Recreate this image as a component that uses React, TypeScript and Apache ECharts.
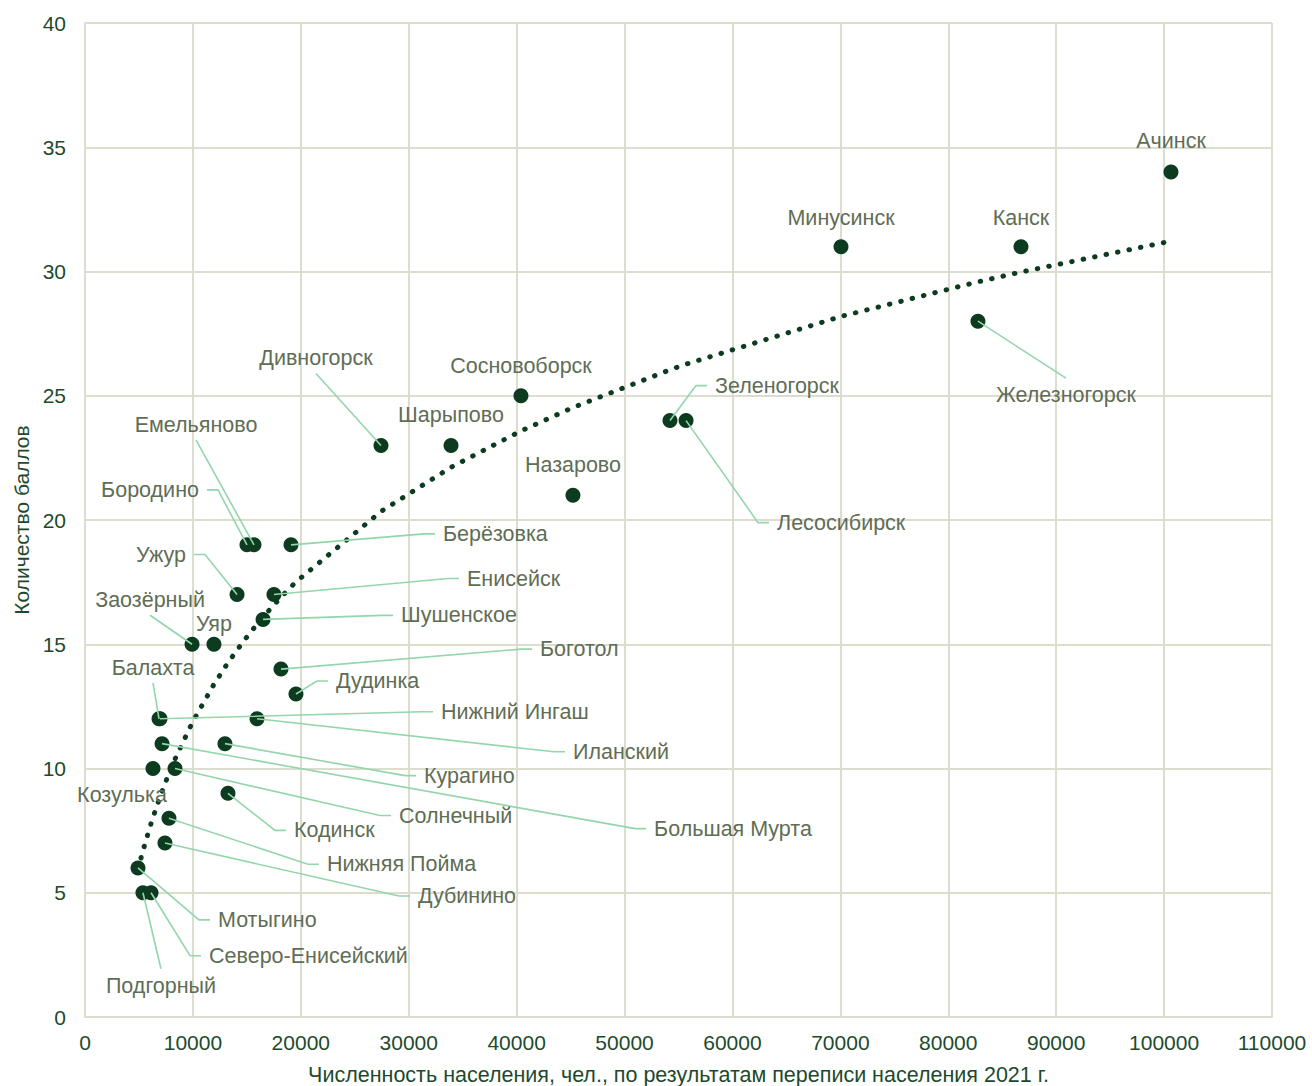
import React, { useEffect, useRef } from "react";
import * as echarts from "echarts";

// ---- data ----
const names = [
  "Ачинск", "Канск", "Минусинск", "Железногорск", "Сосновоборск", "Зеленогорск",
  "Лесосибирск", "Дивногорск", "Шарыпово", "Назарово", "Емельяново", "Бородино",
  "Берёзовка", "Ужур", "Енисейск", "Шушенское", "Заозёрный", "Уяр", "Боготол",
  "Дудинка", "Балахта", "Нижний Ингаш", "Иланский", "Курагино", "Большая Мурта",
  "Солнечный", "Козулька", "Кодинск", "Нижняя Пойма", "Дубинино", "Мотыгино",
  "Северо-Енисейский", "Подгорный",
];
const population = [
  100640, 86740, 70060, 82750, 40400, 54210,
  55700, 27430, 33920, 45220, 15660, 15010,
  19090, 14090, 17510, 16500, 9920, 11950, 18160,
  19550, 6860, 6950, 15940, 12970, 7140,
  8340, 6300, 13250, 7780, 7410, 4910,
  6120, 5370,
];
const scores = [
  34, 31, 31, 28, 25, 24,
  24, 23, 23, 21, 19, 19,
  19, 17, 17, 16, 15, 15, 14,
  13, 12, 12, 12, 11, 11,
  10, 10, 9, 8, 7, 6,
  5, 5,
];

// axis settings
const xMin = 0, xMax = 110000, xStep = 10000;
const yMin = 0, yMax = 40, yStep = 5;
const xTitle = "Численность населения, чел., по результатам переписи населения 2021 г.";
const yTitle = "Количество баллов";

// ---- label placement (pixel offsets from the point; styling only) ----
// mode: c = centred, no leader; l = left-aligned with leader; r = right-aligned with leader;
// b = centred, leader to label bottom; t = centred, leader to label top
const labelMode = [
  "c", "c", "c", "t", "c", "l",
  "l", "b", "c", "c", "b", "r",
  "l", "r", "l", "l", "b", "c", "l",
  "l", "b", "l", "l", "l", "l",
  "l", "c", "l", "l", "l", "l",
  "l", "t",
];
const labelDx = [
  0, 0, 0, 88, 0, 45,
  91, -65, 0, 0, -58, -48,
  152, -51, 193, 138, -42, 0, 259,
  40, -6, 281, 316, 199, 492,
  224, -31, 66, 158, 253, 80,
  58, 18,
];
const labelDy = [
  -31, -29, -29, 74, -30, -35,
  102, -87, -30, -30, -120, -55,
  -11, -40, -16, -4, -44, -20, -20,
  -13, -51, -7, 33, 32, 85,
  47, 26, 37, 46, 53, 52,
  63, 93,
];

const FONT = '"Liberation Sans", Arial, sans-serif';
const DOT = "#0c3b1f";
const LEADER = "#93d6ab";
const LABEL = "#5f6d55";
const AXIS_TEXT = "#1d4a2d";
const GRID = "#dcdccf";
const GAP = 8;
const STUB = 11;

// logarithmic least-squares trend, fitted on the data above
function logFit(xs: number[], ys: number[]) {
  const lx = xs.map(Math.log);
  const n = xs.length;
  const mx = lx.reduce((a, b) => a + b, 0) / n;
  const my = ys.reduce((a, b) => a + b, 0) / n;
  let sxy = 0, sxx = 0;
  for (let i = 0; i < n; i++) {
    sxy += (lx[i] - mx) * (ys[i] - my);
    sxx += (lx[i] - mx) * (lx[i] - mx);
  }
  const a = sxy / sxx;
  const b = my - a * mx;
  return (x: number) => a * Math.log(x) + b;
}

export default function App() {
  const ref = useRef<HTMLDivElement>(null);

  useEffect(() => {
    if (!ref.current) return;
    const chart = echarts.init(ref.current, null, { renderer: "svg" });

    const fit = logFit(population, scores);
    const trendXs = Array.from(new Set(population)).sort((a, b) => a - b);
    const trendData = trendXs.map((x) => [x, fit(x)]);

    const pointData = names.map((_, i) => [population[i], scores[i]]);
    const labelData = names.map((_, i) => [population[i], scores[i], i]);

    const option: any = {
      animation: false,
      backgroundColor: "#ffffff",
      grid: {
        left: 85, top: 23, right: 40, bottom: 69,
        containLabel: false, outerBoundsMode: "none",
      },
      xAxis: {
        type: "value",
        min: xMin,
        max: xMax,
        interval: xStep,
        name: xTitle,
        nameLocation: "middle",
        nameGap: 47,
        nameTextStyle: { color: AXIS_TEXT, fontSize: 21.5, fontFamily: FONT },
        axisLine: { show: true, lineStyle: { color: GRID, width: 2 } },
        axisTick: { show: false },
        axisLabel: {
          color: AXIS_TEXT, fontSize: 21, fontFamily: FONT, margin: 15,
          formatter: (v: number) => String(v),
        },
        splitLine: { show: true, lineStyle: { color: GRID, width: 2 } },
      },
      yAxis: {
        type: "value",
        min: yMin,
        max: yMax,
        interval: yStep,
        name: yTitle,
        nameLocation: "middle",
        nameGap: 52,
        nameRotate: 90,
        nameTextStyle: { color: AXIS_TEXT, fontSize: 21, fontFamily: FONT },
        axisLine: { show: true, lineStyle: { color: GRID, width: 2 } },
        axisTick: { show: false },
        axisLabel: {
          color: AXIS_TEXT, fontSize: 21, fontFamily: FONT, margin: 19,
          formatter: (v: number) => String(v),
        },
        splitLine: { show: true, lineStyle: { color: GRID, width: 2 } },
      },
      series: [
        {
          type: "line",
          name: "trend",
          data: trendData,
          showSymbol: false,
          symbol: "none",
          smooth: false,
          z: 2,
          lineStyle: { color: DOT, width: 5, type: [0.5, 11.2], cap: "round" },
        },
        {
          type: "scatter",
          name: "points",
          data: pointData,
          symbolSize: 15,
          z: 3,
          itemStyle: { color: DOT, opacity: 1 },
        },
        {
          type: "custom",
          name: "labels",
          coordinateSystem: "cartesian2d",
          data: labelData,
          encode: { x: 0, y: 1 },
          clip: false,
          z: 4,
          renderItem: (params: any, api: any) => {
            const i = api.value(2);
            const p = api.coord([api.value(0), api.value(1)]);
            const mode = labelMode[i];
            const lx = p[0] + labelDx[i];
            const ly = p[1] + labelDy[i];
            let align = "center";
            let pts: number[][] | null = null;
            if (mode === "l") {
              align = "left";
              pts = [p, [lx - GAP - STUB, ly], [lx - GAP, ly]];
            } else if (mode === "r") {
              align = "right";
              pts = [p, [lx + GAP + STUB, ly], [lx + GAP, ly]];
            } else if (mode === "b") {
              pts = [p, [lx, ly + 15]];
            } else if (mode === "t") {
              pts = [p, [lx, ly - 17]];
            }
            const children: any[] = [];
            if (pts) {
              children.push({
                type: "polyline",
                shape: { points: pts },
                style: { stroke: LEADER, lineWidth: 1.6, fill: null },
              });
            }
            children.push({
              type: "text",
              x: lx,
              y: ly,
              style: {
                text: names[i],
                fill: LABEL,
                font: `21.5px ${FONT}`,
                align,
                verticalAlign: "middle",
                textAlign: align,
                textVerticalAlign: "middle",
              },
            });
            return { type: "group", children };
          },
        },
      ],
    };

    chart.setOption(option);
    return () => chart.dispose();
  }, []);

  return (
    <div
      ref={ref}
      style={{ position: "fixed", left: 0, top: 0, width: 1312, height: 1086, background: "#fff" }}
    />
  );
}
